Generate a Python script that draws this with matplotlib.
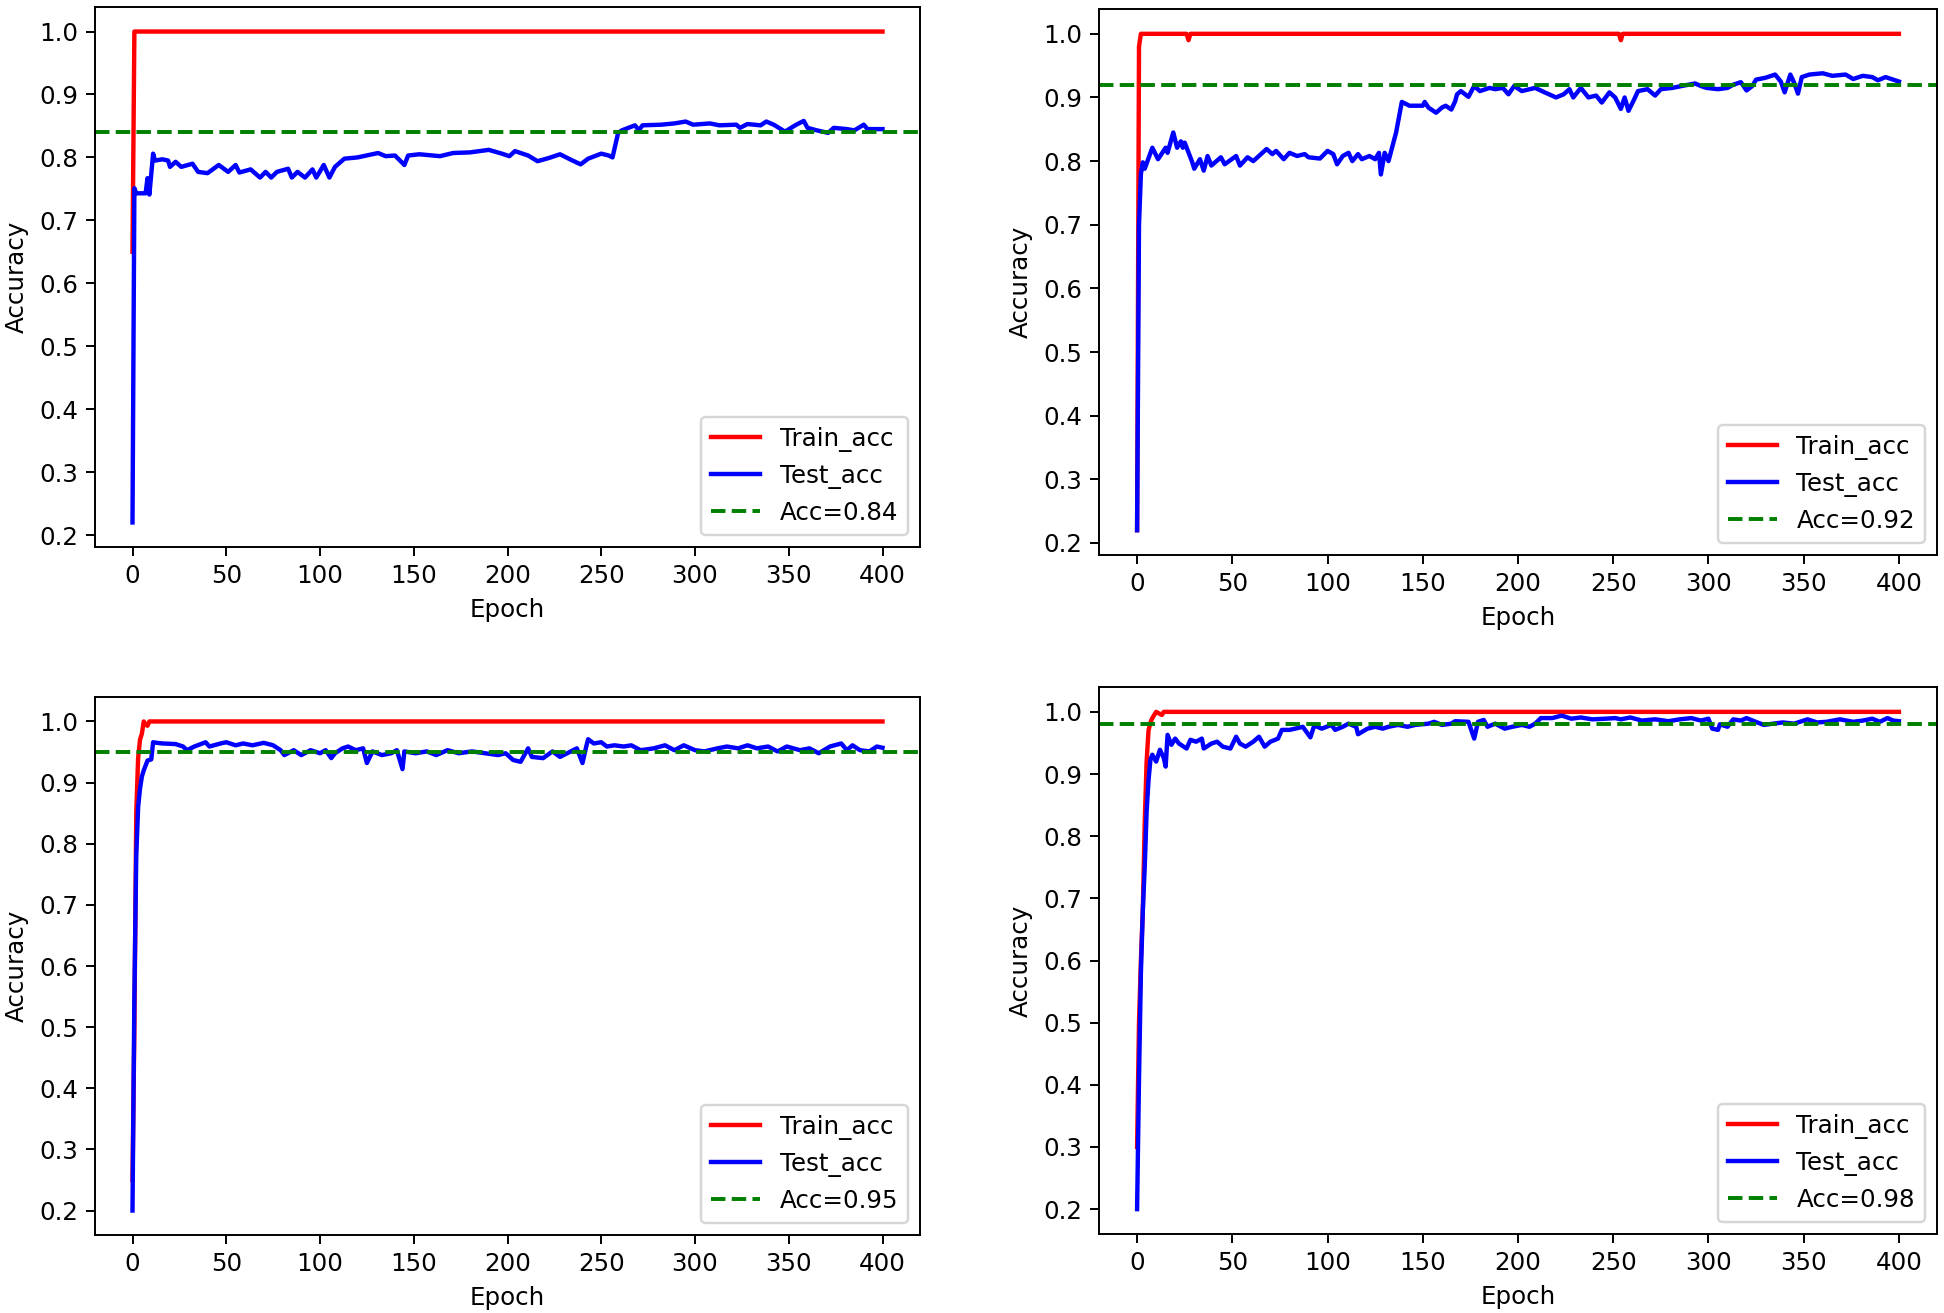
""" training curves for the four models
"""

import matplotlib
matplotlib.use("Agg")
import matplotlib.pyplot as plt

# --- model 1 ---
train1_ep = [0, 1, 400]
train1_acc = [0.65, 1.0, 1.0]
test1_ep = [0, 1, 2, 7, 8, 9, 11, 12, 16, 19, 20, 23, 26, 32, 35, 40, 46, 51, 55, 57,
            63, 68, 71, 74, 77, 83, 85, 88, 92, 96, 98, 102, 105, 108, 113, 120, 131,
            135, 140, 145, 147, 153, 164, 171, 180, 190, 197, 201, 204, 211, 216, 222,
            228, 234, 239, 243, 250, 254, 256, 259, 261, 268, 270, 272, 282, 289, 295,
            299, 308, 313, 322, 324, 328, 335, 338, 342, 348, 354, 358, 360, 365, 371,
            374, 381, 385, 390, 392, 398, 400]
test1_acc = [0.22, 0.751, 0.743, 0.743, 0.767, 0.741, 0.806, 0.795, 0.797, 0.795, 0.785,
             0.793, 0.785, 0.790, 0.777, 0.775, 0.788, 0.777, 0.788, 0.776, 0.781, 0.768,
             0.777, 0.768, 0.777, 0.782, 0.768, 0.777, 0.768, 0.781, 0.768, 0.788, 0.768,
             0.785, 0.798, 0.800, 0.807, 0.802, 0.803, 0.788, 0.803, 0.805, 0.802, 0.807,
             0.808, 0.812, 0.806, 0.802, 0.810, 0.803, 0.794, 0.799, 0.805, 0.796, 0.789,
             0.798, 0.806, 0.803, 0.800, 0.839, 0.843, 0.851, 0.843, 0.851, 0.852, 0.854,
             0.857, 0.852, 0.854, 0.851, 0.852, 0.847, 0.853, 0.851, 0.857, 0.852, 0.841,
             0.852, 0.858, 0.847, 0.843, 0.839, 0.847, 0.845, 0.843, 0.852, 0.845, 0.845,
             0.845]
acc1 = 0.84

# --- model 2 ---
train2_ep = [0, 1, 2, 26, 27, 28, 253, 254, 255, 400]
train2_acc = [0.22, 0.98, 1.0, 1.0, 0.99, 1.0, 1.0, 0.99, 1.0, 1.0]
test2_ep = [0, 1, 2, 3, 4, 8, 11, 15, 16, 19, 21, 23, 24, 25, 29, 30, 33, 35, 37, 39,
            44, 46, 52, 54, 58, 61, 68, 71, 73, 77, 80, 84, 88, 90, 96, 100, 103, 105,
            108, 111, 113, 116, 118, 122, 125, 127, 128, 130, 132, 136, 139, 143, 150,
            151, 153, 157, 160, 162, 165, 167, 168, 170, 174, 177, 180, 185, 188, 192,
            195, 198, 202, 209, 214, 220, 224, 227, 229, 233, 237, 241, 244, 248, 251,
            254, 256, 258, 261, 263, 268, 272, 275, 281, 286, 293, 296, 299, 305, 310,
            313, 317, 320, 323, 325, 330, 335, 338, 340, 343, 345, 347, 349, 353, 360,
            365, 372, 376, 381, 386, 389, 393, 400]
test2_acc = [0.22, 0.70, 0.78, 0.798, 0.788, 0.821, 0.803, 0.821, 0.813, 0.845, 0.821,
             0.831, 0.821, 0.829, 0.798, 0.788, 0.803, 0.785, 0.808, 0.793, 0.806, 0.795,
             0.808, 0.793, 0.806, 0.800, 0.819, 0.811, 0.816, 0.803, 0.813, 0.808, 0.811,
             0.806, 0.804, 0.816, 0.811, 0.795, 0.808, 0.813, 0.800, 0.811, 0.803, 0.808,
             0.803, 0.813, 0.779, 0.813, 0.800, 0.845, 0.893, 0.887, 0.887, 0.893, 0.884,
             0.876, 0.884, 0.887, 0.881, 0.894, 0.905, 0.910, 0.901, 0.918, 0.910, 0.915,
             0.913, 0.915, 0.905, 0.918, 0.910, 0.915, 0.908, 0.900, 0.905, 0.913, 0.900,
             0.915, 0.900, 0.903, 0.892, 0.908, 0.900, 0.882, 0.900, 0.879, 0.897, 0.910,
             0.913, 0.903, 0.913, 0.915, 0.918, 0.922, 0.918, 0.915, 0.913, 0.915, 0.920,
             0.924, 0.911, 0.918, 0.928, 0.931, 0.936, 0.925, 0.908, 0.936, 0.923, 0.906,
             0.932, 0.936, 0.938, 0.934, 0.936, 0.929, 0.934, 0.932, 0.927, 0.932, 0.925]
acc2 = 0.92

# --- model 3 ---
train3_ep = [0, 1, 2, 3, 4, 5, 6, 7, 8, 9, 400]
train3_acc = [0.25, 0.50, 0.85, 0.94, 0.97, 0.98, 1.0, 0.995, 0.993, 1.0, 1.0]
test3_ep = [0, 1, 2, 3, 4, 5, 6, 8, 10, 11, 13, 16, 23, 27, 29, 33, 39, 41, 47, 50, 55,
            59, 64, 70, 75, 79, 81, 86, 90, 95, 100, 103, 106, 108, 112, 115, 119, 123,
            125, 128, 133, 138, 141, 144, 145, 151, 157, 162, 168, 174, 181, 188, 195,
            199, 203, 207, 211, 213, 219, 224, 228, 235, 237, 240, 242, 243, 246, 250,
            253, 257, 262, 266, 271, 278, 284, 289, 294, 300, 305, 312, 317, 323, 328,
            333, 339, 344, 349, 356, 361, 366, 372, 378, 381, 384, 388, 393, 397, 400]
test3_acc = [0.20, 0.55, 0.78, 0.86, 0.89, 0.91, 0.92, 0.936, 0.938, 0.966, 0.965,
             0.964, 0.963, 0.959, 0.953, 0.959, 0.966, 0.959, 0.964, 0.966, 0.961, 0.964,
             0.961, 0.965, 0.961, 0.953, 0.945, 0.953, 0.945, 0.953, 0.948, 0.953, 0.940,
             0.948, 0.956, 0.959, 0.953, 0.956, 0.932, 0.951, 0.945, 0.948, 0.953, 0.922,
             0.951, 0.948, 0.951, 0.945, 0.953, 0.948, 0.951, 0.948, 0.945, 0.948, 0.937,
             0.934, 0.956, 0.942, 0.940, 0.951, 0.942, 0.953, 0.956, 0.932, 0.959, 0.971,
             0.964, 0.966, 0.959, 0.961, 0.959, 0.961, 0.953, 0.956, 0.961, 0.953, 0.961,
             0.953, 0.951, 0.956, 0.959, 0.956, 0.961, 0.956, 0.959, 0.951, 0.959, 0.953,
             0.956, 0.948, 0.959, 0.964, 0.953, 0.961, 0.953, 0.951, 0.959, 0.957]
acc3 = 0.95

# --- model 4 ---
train4_ep = [0, 1, 2, 3, 4, 5, 6, 7, 8, 9, 10, 13, 14, 400]
train4_acc = [0.30, 0.50, 0.60, 0.68, 0.82, 0.92, 0.97, 0.983, 0.99, 0.995, 1.0, 0.995,
              1.0, 1.0]
test4_ep = [0, 1, 2, 3, 4, 5, 6, 7, 8, 10, 12, 14, 15, 16, 18, 20, 22, 26, 28, 31, 34,
            35, 39, 42, 45, 49, 52, 54, 57, 61, 64, 67, 70, 74, 76, 80, 83, 87, 91, 93,
            97, 102, 104, 108, 111, 115, 116, 121, 125, 129, 132, 137, 142, 146, 153,
            156, 160, 165, 167, 174, 177, 179, 182, 184, 188, 193, 197, 202, 206, 209,
            212, 218, 223, 228, 233, 239, 246, 251, 254, 259, 265, 272, 279, 285, 291,
            296, 300, 302, 305, 306, 310, 313, 317, 320, 324, 329, 334, 339, 345, 352,
            357, 362, 369, 376, 381, 386, 390, 394, 397, 400]
test4_acc = [0.20, 0.41, 0.58, 0.68, 0.75, 0.84, 0.89, 0.923, 0.931, 0.920, 0.939, 0.926,
             0.912, 0.963, 0.947, 0.957, 0.949, 0.941, 0.955, 0.952, 0.957, 0.941, 0.949,
             0.952, 0.944, 0.941, 0.960, 0.949, 0.944, 0.952, 0.960, 0.944, 0.952, 0.957,
             0.971, 0.971, 0.973, 0.976, 0.959, 0.978, 0.973, 0.979, 0.971, 0.976, 0.981,
             0.976, 0.964, 0.973, 0.976, 0.973, 0.976, 0.979, 0.976, 0.979, 0.981, 0.984,
             0.979, 0.981, 0.985, 0.984, 0.957, 0.984, 0.987, 0.976, 0.981, 0.973, 0.976,
             0.979, 0.976, 0.981, 0.990, 0.990, 0.994, 0.989, 0.991, 0.988, 0.989, 0.990,
             0.988, 0.991, 0.986, 0.988, 0.985, 0.988, 0.990, 0.986, 0.989, 0.973, 0.971,
             0.980, 0.976, 0.988, 0.986, 0.990, 0.985, 0.979, 0.981, 0.983, 0.981, 0.988,
             0.983, 0.984, 0.988, 0.984, 0.986, 0.989, 0.984, 0.990, 0.986, 0.985]
acc4 = 0.98

DPI = 176
W, H = 1944, 1313
fig = plt.figure(figsize=(W / DPI, H / DPI), dpi=DPI)

# axes boxes in pixels: left, top, right, bottom
boxes = [(95, 7, 920, 547), (1099, 9, 1937, 555),
         (95, 697, 920, 1235), (1099, 687, 1937, 1234)]

panels = [(train1_ep, train1_acc, test1_ep, test1_acc, acc1),
          (train2_ep, train2_acc, test2_ep, test2_acc, acc2),
          (train3_ep, train3_acc, test3_ep, test3_acc, acc3),
          (train4_ep, train4_acc, test4_ep, test4_acc, acc4)]

for (l, t, r, b), (tr_x, tr_y, te_x, te_y, acc) in zip(boxes, panels):
    ax = fig.add_axes([l / W, 1 - b / H, (r - l) / W, (b - t) / H])
    ax.plot(tr_x, tr_y, color="red", lw=1.8, label="Train_acc")
    ax.plot(te_x, te_y, color="blue", lw=1.8, label="Test_acc")
    ax.axhline(acc, color="green", linestyle="--", lw=1.6, label=f"Acc={acc:.2f}")
    ax.set_xlabel("Epoch")
    ax.set_ylabel("Accuracy")
    ax.set_xticks([0, 50, 100, 150, 200, 250, 300, 350, 400])
    ax.legend(loc="lower right")

fig.savefig("out.png", dpi=DPI)
